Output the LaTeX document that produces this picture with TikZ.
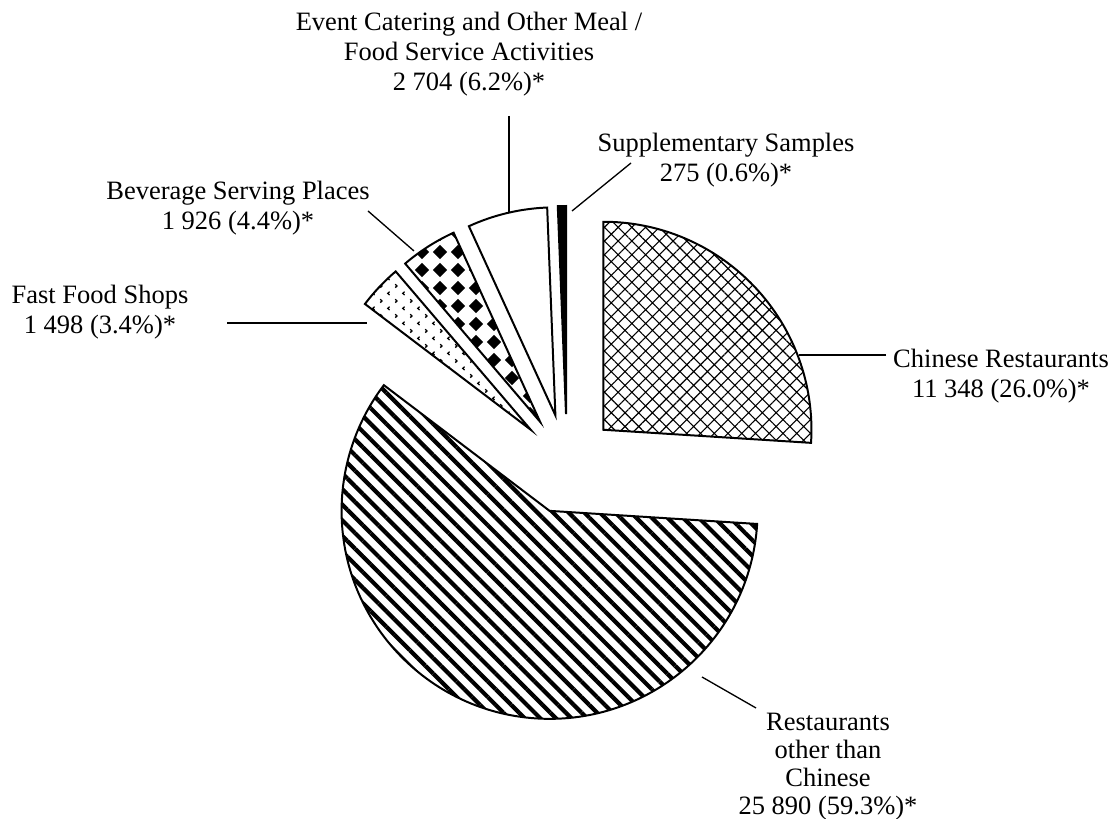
\documentclass[tikz,border=0pt]{standalone}
\usepackage{fontspec}
\setmainfont{Liberation Serif}
\usepackage{tikz}
\usetikzlibrary{calc,positioning}
\usetikzlibrary{patterns,patterns.meta}
\tikzstyle{leader} = [line width=0.6pt]
\tikzset{
    slice/.style = {draw, line width=0.9pt, line join=miter},
    lbl/.style = {align=center, inner sep=0pt, font=\fontsize{12}{13.6}\selectfont},
}
\pgfdeclarepatternformonly{bevdiamonds}{\pgfqpoint{0pt}{0pt}}{\pgfqpoint{8.15pt}{8.15pt}}{\pgfqpoint{8.15pt}{8.15pt}}{
    \pgfpathmoveto{\pgfqpoint{4.07pt}{0.85pt}}
    \pgfpathlineto{\pgfqpoint{7.3pt}{4.07pt}}
    \pgfpathlineto{\pgfqpoint{4.07pt}{7.3pt}}
    \pgfpathlineto{\pgfqpoint{0.85pt}{4.07pt}}
    \pgfpathclose
    \pgfusepath{fill}
}
\pgfdeclarepatternformonly{ffchevrons}{\pgfqpoint{0pt}{0pt}}{\pgfqpoint{7pt}{7pt}}{\pgfqpoint{7pt}{7pt}}{
    \pgfsetlinewidth{0.6pt}
    \pgfpathmoveto{\pgfqpoint{2.1pt}{2.5pt}}
    \pgfpathlineto{\pgfqpoint{1.3pt}{1.7pt}}
    \pgfpathlineto{\pgfqpoint{2.1pt}{0.9pt}}
    \pgfpathmoveto{\pgfqpoint{4.8pt}{6.0pt}}
    \pgfpathlineto{\pgfqpoint{5.6pt}{5.2pt}}
    \pgfpathlineto{\pgfqpoint{4.8pt}{4.4pt}}
    \pgfusepath{stroke}
}

\begin{document}
\begin{tikzpicture}[x=0.453pt, y=0.453pt]
    \useasboundingbox (0,0) rectangle (1117,818);
    \coordinate (c) at (567,354);

    % slices, each pushed out 50 along its middle
    \draw [slice, pattern={Hatch[angle=45,distance=4.4pt,line width=0.5pt]}]
        ($(c)+(43.2:50)$) -- ++(90:208) arc [start angle=90, end angle=-3.61, radius=208] -- cycle;
    \draw [slice, pattern={Lines[angle=-45,distance=5pt,line width=1.9pt]}]
        ($(c)+(-110.4:50)$) -- ++(-3.61:208) arc [start angle=-3.61, end angle=-217.18, radius=208] -- cycle;
    \draw [slice, pattern=ffchevrons]
        ($(c)+(136.64:50)$) -- ++(142.82:208) arc [start angle=142.82, end angle=130.46, radius=208] -- cycle;
    \draw [slice, pattern=bevdiamonds]
        ($(c)+(122.52:50)$) -- ++(130.46:208) arc [start angle=130.46, end angle=114.58, radius=208] -- cycle;
    \draw [slice, fill=white]
        ($(c)+(103.42:50)$) -- ++(114.58:208) arc [start angle=114.58, end angle=92.27, radius=208] -- cycle;
    \draw [slice, fill=black]
        ($(c)+(91.13:50)$) -- ++(92.27:208) arc [start angle=92.27, end angle=90, radius=208] -- cycle;

    % labels
    \node [lbl] (event) at (469,763.5) {Event Catering and Other Meal /\\Food Service Activities\\2 704 (6.2\%)*};
    \node [lbl] (supp) at (726,658) {Supplementary Samples\\275 (0.6\%)*};
    \node [lbl] (bev) at (238,610) {Beverage Serving Places\\1 926 (4.4\%)*};
    \node [lbl] (ff) at (100,506) {Fast Food Shops\\1 498 (3.4\%)*};
    \node [lbl] (chin) at (1001,442) {Chinese Restaurants\\11 348 (26.0\%)*};
    \node [lbl, font=\fontsize{12}{12.7}\selectfont] (other) at (828,51) {Restaurants\\other than\\Chinese\\25 890 (59.3\%)*};

    % leader lines
    \coordinate (ff-a) at (227,495);
    \coordinate (ff-b) at (367,495);
    \coordinate (bev-a) at (368,607);
    \coordinate (bev-b) at (414,567);
    \coordinate (event-a) at (509,702);
    \coordinate (event-b) at (509,606);
    \coordinate (supp-a) at (631,655);
    \coordinate (supp-b) at (572,607);
    \coordinate (chin-a) at (886,463);
    \coordinate (chin-b) at (799,463);
    \coordinate (other-a) at (756,110);
    \coordinate (other-b) at (702,141);
    \draw [leader] (ff-a) -- (ff-b);
    \draw [leader] (bev-a) -- (bev-b);
    \draw [leader] (event-a) -- (event-b);
    \draw [leader] (supp-a) -- (supp-b);
    \draw [leader] (chin-a) -- (chin-b);
    \draw [leader] (other-a) -- (other-b);
\end{tikzpicture}
\end{document}
